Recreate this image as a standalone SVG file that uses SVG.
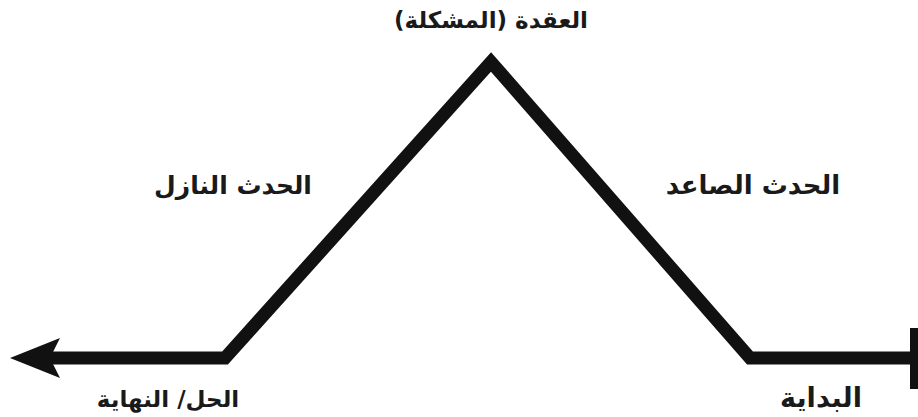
<svg xmlns="http://www.w3.org/2000/svg" width="918" height="417" viewBox="0 0 918 417">
<style>
.lbl{font-family:"DejaVu Sans",sans-serif;font-weight:bold;font-size:25px;fill:#1a1a1a;text-anchor:middle;direction:rtl}
.ln{fill:none;stroke:#111;stroke-width:13;stroke-linejoin:miter;stroke-linecap:butt}
</style>
<rect width="918" height="417" fill="#fff"/>
<g id="connectors">
<polyline class="ln" points="912,358 750,358 491,62 225,358 40,358"/>
<path d="M10,358 L60,338 L50,358 L60,378 Z" fill="#111"/>
<line x1="914" y1="328" x2="914" y2="389" stroke="#111" stroke-width="8"/>
</g>
<g id="peak"><text class="lbl" x="491" y="28" style="font-size:23px">العقدة (المشكلة)</text></g>
<g id="rising"><text class="lbl" x="753" y="194" style="font-size:26px">الحدث الصاعد</text></g>
<g id="falling"><text class="lbl" x="233" y="194">الحدث النازل</text></g>
<g id="start"><text class="lbl" x="821" y="407" style="font-size:27px">البداية</text></g>
<g id="end"><text class="lbl" x="168" y="407" style="font-size:23px">الحل/ النهاية</text></g>
</svg>
